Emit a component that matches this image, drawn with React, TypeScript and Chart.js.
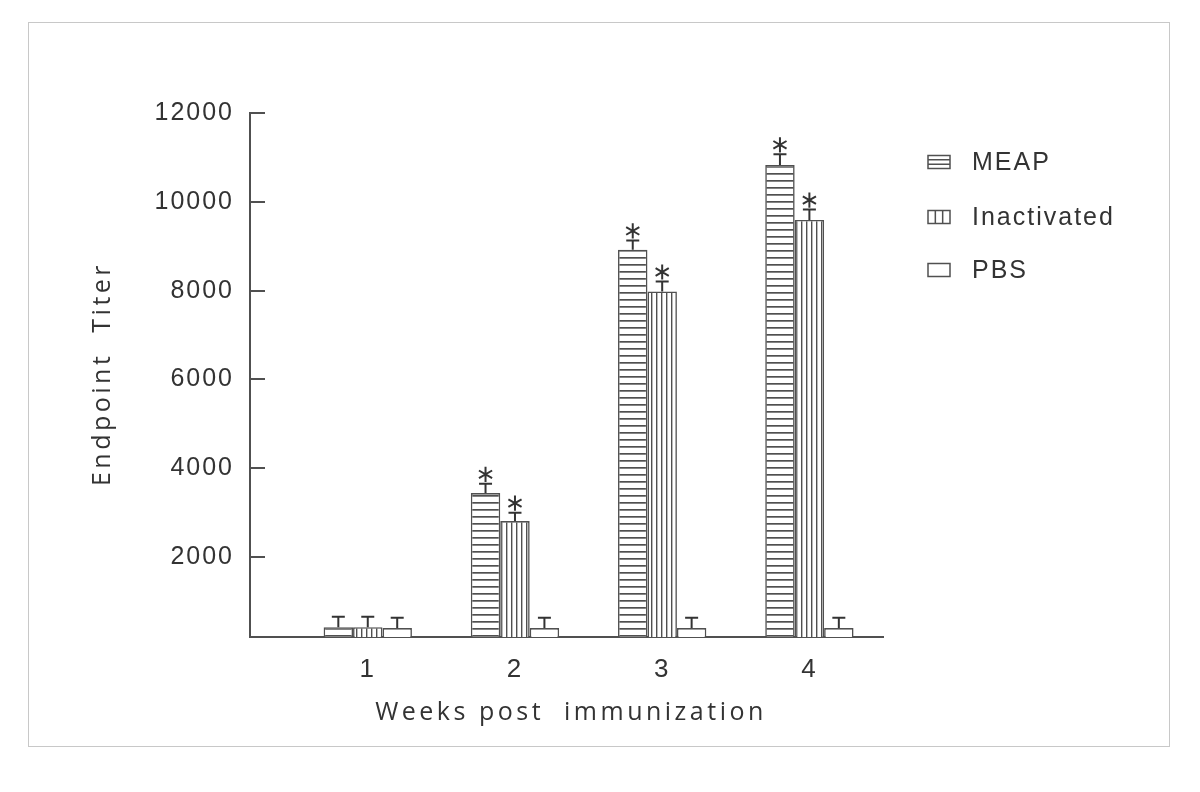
import React, { useEffect, useRef } from "react";
import { Chart, registerables } from "chart.js";

Chart.register(...registerables);

const WEEKS = ["1", "2", "3", "4"];
const Y_TICKS = [2000, 4000, 6000, 8000, 10000, 12000];
const SERIES_NAMES = ["MEAP", "Inactivated", "PBS"];
const MEAP = [420, 3440, 8920, 10830];
const INACTIVATED = [420, 2810, 7980, 9590];
const PBS = [400, 400, 400, 400];
const MEAP_ERR = [235, 210, 210, 240];
const INACTIVATED_ERR = [235, 190, 225, 235];
const PBS_ERR = [235, 235, 235, 235];
const MEAP_SIG = [false, true, true, true];
const INACTIVATED_SIG = [false, true, true, true];
const PBS_SIG = [false, false, false, false];
const X_TITLE = "Weeks post  immunization";
const Y_TITLE = "Endpoint  Titer";

const INK = "#333333";
const LINE = "#505050";
const TICK_FONT = '"Liberation Sans", Arial, sans-serif';
const TITLE_FONT = '"Open Sans", sans-serif';

function makePattern(kind: "h" | "v" | "none"): CanvasPattern | string {
  if (kind === "none") return "#ffffff";
  const c = document.createElement("canvas");
  const w = kind === "h" ? 8 : 5;
  const h = kind === "h" ? 7 : 8;
  c.width = w;
  c.height = h;
  const g = c.getContext("2d")!;
  g.fillStyle = "#ffffff";
  g.fillRect(0, 0, w, h);
  g.fillStyle = LINE;
  if (kind === "h") g.fillRect(0, 3, w, 1.7);
  else g.fillRect(2, 0, 1.4, h);
  return g.createPattern(c, "repeat")!;
}

export default function App() {
  const ref = useRef<HTMLCanvasElement>(null);

  useEffect(() => {
    const canvas = ref.current!;
    const values = [MEAP, INACTIVATED, PBS];
    const errs = [MEAP_ERR, INACTIVATED_ERR, PBS_ERR];
    const sigs = [MEAP_SIG, INACTIVATED_SIG, PBS_SIG];
    const kinds: ("h" | "v" | "none")[] = ["h", "v", "none"];

    const spacingPlugin = {
      id: "spacing",
      beforeDraw(chart: any) {
        (chart.ctx as any).letterSpacing = "2px";
      },
    };

    const errorPlugin = {
      id: "errorBars",
      afterDatasetsDraw(chart: any) {
        const ctx = chart.ctx;
        const ys = chart.scales.y;
        ctx.save();
        ctx.strokeStyle = INK;
        ctx.lineWidth = 2;
        values.forEach((vals, di) => {
          const meta = chart.getDatasetMeta(di);
          meta.data.forEach((el: any, j: number) => {
            const x = el.x;
            const top = ys.getPixelForValue(vals[j] + errs[di][j]);
            ctx.beginPath();
            ctx.moveTo(x, el.y);
            ctx.lineTo(x, top);
            ctx.moveTo(x - 6.5, top);
            ctx.lineTo(x + 6.5, top);
            ctx.stroke();
            if (sigs[di][j]) {
              const cy = top - 9.5;
              const r = 7.6;
              ctx.lineWidth = 2;
              ctx.beginPath();
              for (const a of [90, 30, 150]) {
                const rad = (a * Math.PI) / 180;
                ctx.moveTo(x - r * Math.cos(rad), cy - r * Math.sin(rad));
                ctx.lineTo(x + r * Math.cos(rad), cy + r * Math.sin(rad));
              }
              ctx.stroke();
            }
          });
        });
        ctx.restore();
      },
    };

    const textPlugin = {
      id: "legendAndTitles",
      afterDraw(chart: any) {
        const ctx = chart.ctx;
        const area = chart.chartArea;
        ctx.save();
        // legend
        const ys = [139, 194, 247];
        SERIES_NAMES.forEach((name, i) => {
          const bx = 899;
          const by = ys[i] - 6.5;
          const bw = 22;
          const bh = 13;
          ctx.fillStyle = "#fff";
          ctx.fillRect(bx, by, bw, bh);
          ctx.strokeStyle = LINE;
          ctx.lineWidth = 1.5;
          ctx.strokeRect(bx, by, bw, bh);
          ctx.beginPath();
          if (kinds[i] === "h") {
            ctx.moveTo(bx, by + bh / 3);
            ctx.lineTo(bx + bw, by + bh / 3);
            ctx.moveTo(bx, by + (2 * bh) / 3);
            ctx.lineTo(bx + bw, by + (2 * bh) / 3);
          } else if (kinds[i] === "v") {
            ctx.moveTo(bx + bw / 3, by);
            ctx.lineTo(bx + bw / 3, by + bh);
            ctx.moveTo(bx + (2 * bw) / 3, by);
            ctx.lineTo(bx + (2 * bw) / 3, by + bh);
          }
          ctx.stroke();
          ctx.fillStyle = INK;
          ctx.letterSpacing = "2px";
          ctx.font = `25px ${TICK_FONT}`;
          ctx.textBaseline = "middle";
          ctx.textAlign = "left";
          ctx.fillText(name, 943, ys[i] + 1);
        });
        // axis titles
        ctx.fillStyle = INK;
        ctx.letterSpacing = "3.5px";
        ctx.font = `25px ${TITLE_FONT}`;
        ctx.textAlign = "center";
        ctx.textBaseline = "middle";
        ctx.fillText(X_TITLE, 542, 690);
        ctx.translate(74, (area.top + area.bottom) / 2 - 1);
        ctx.rotate(-Math.PI / 2);
        ctx.fillText(Y_TITLE, 0, 0);
        ctx.restore();
      },
    };

    const chart = new Chart(canvas, {
      type: "bar",
      data: {
        datasets: values.map((vals, di) => ({
          label: SERIES_NAMES[di],
          data: vals.map((v, j) => ({ x: j + 1, y: v })),
          backgroundColor: makePattern(kinds[di]) as any,
          borderColor: LINE,
          borderWidth: 1.6,
          borderSkipped: "bottom",
          categoryPercentage: 0.6,
          barPercentage: 1,
        })),
      },
      options: {
        responsive: false,
        animation: false,
        events: [],
        layout: { padding: { top: 90, right: 286, left: 0, bottom: 0 } },
        plugins: {
          legend: { display: false },
          tooltip: { enabled: false },
        },
        scales: {
          x: {
            type: "linear",
            offset: false,
            min: 0.2,
            max: 4.5,
            afterBuildTicks: (s: any) => {
              s.ticks = WEEKS.map((_, i) => ({ value: i + 1 }));
            },
            afterFit: (s: any) => {
              s.height = 109;
            },
            ticks: {
              autoSkip: false,
              maxRotation: 0,
              padding: 17,
              color: INK,
              font: { family: TICK_FONT, size: 26 },
              callback: (v: any) => WEEKS[Number(v) - 1] ?? "",
            },
            grid: { display: false, drawTicks: false },
            border: { display: true, color: LINE, width: 2 },
          },
          y: {
            type: "linear",
            min: 200,
            max: 12000,
            afterBuildTicks: (s: any) => {
              s.ticks = Y_TICKS.map((v) => ({ value: v }));
            },
            afterFit: (s: any) => {
              s.width = 221;
            },
            ticks: {
              padding: 31,
              color: INK,
              font: { family: TICK_FONT, size: 25 },
              callback: (v: any) => String(v),
            },
            grid: {
              drawOnChartArea: false,
              drawTicks: true,
              tickLength: -15,
              color: LINE,
              lineWidth: 2,
            },
            border: { display: true, color: LINE, width: 2 },
          },
        },
      },
      plugins: [spacingPlugin, errorPlugin, textPlugin],
    });
    return () => chart.destroy();
  }, []);

  return (
    <div
      style={{
        position: "absolute",
        left: 28,
        top: 22,
        width: 1140,
        height: 723,
        border: "1px solid #c8c8c8",
        background: "#fff",
      }}
    >
      <canvas ref={ref} width={1140} height={723} style={{ display: "block" }} />
    </div>
  );
}
